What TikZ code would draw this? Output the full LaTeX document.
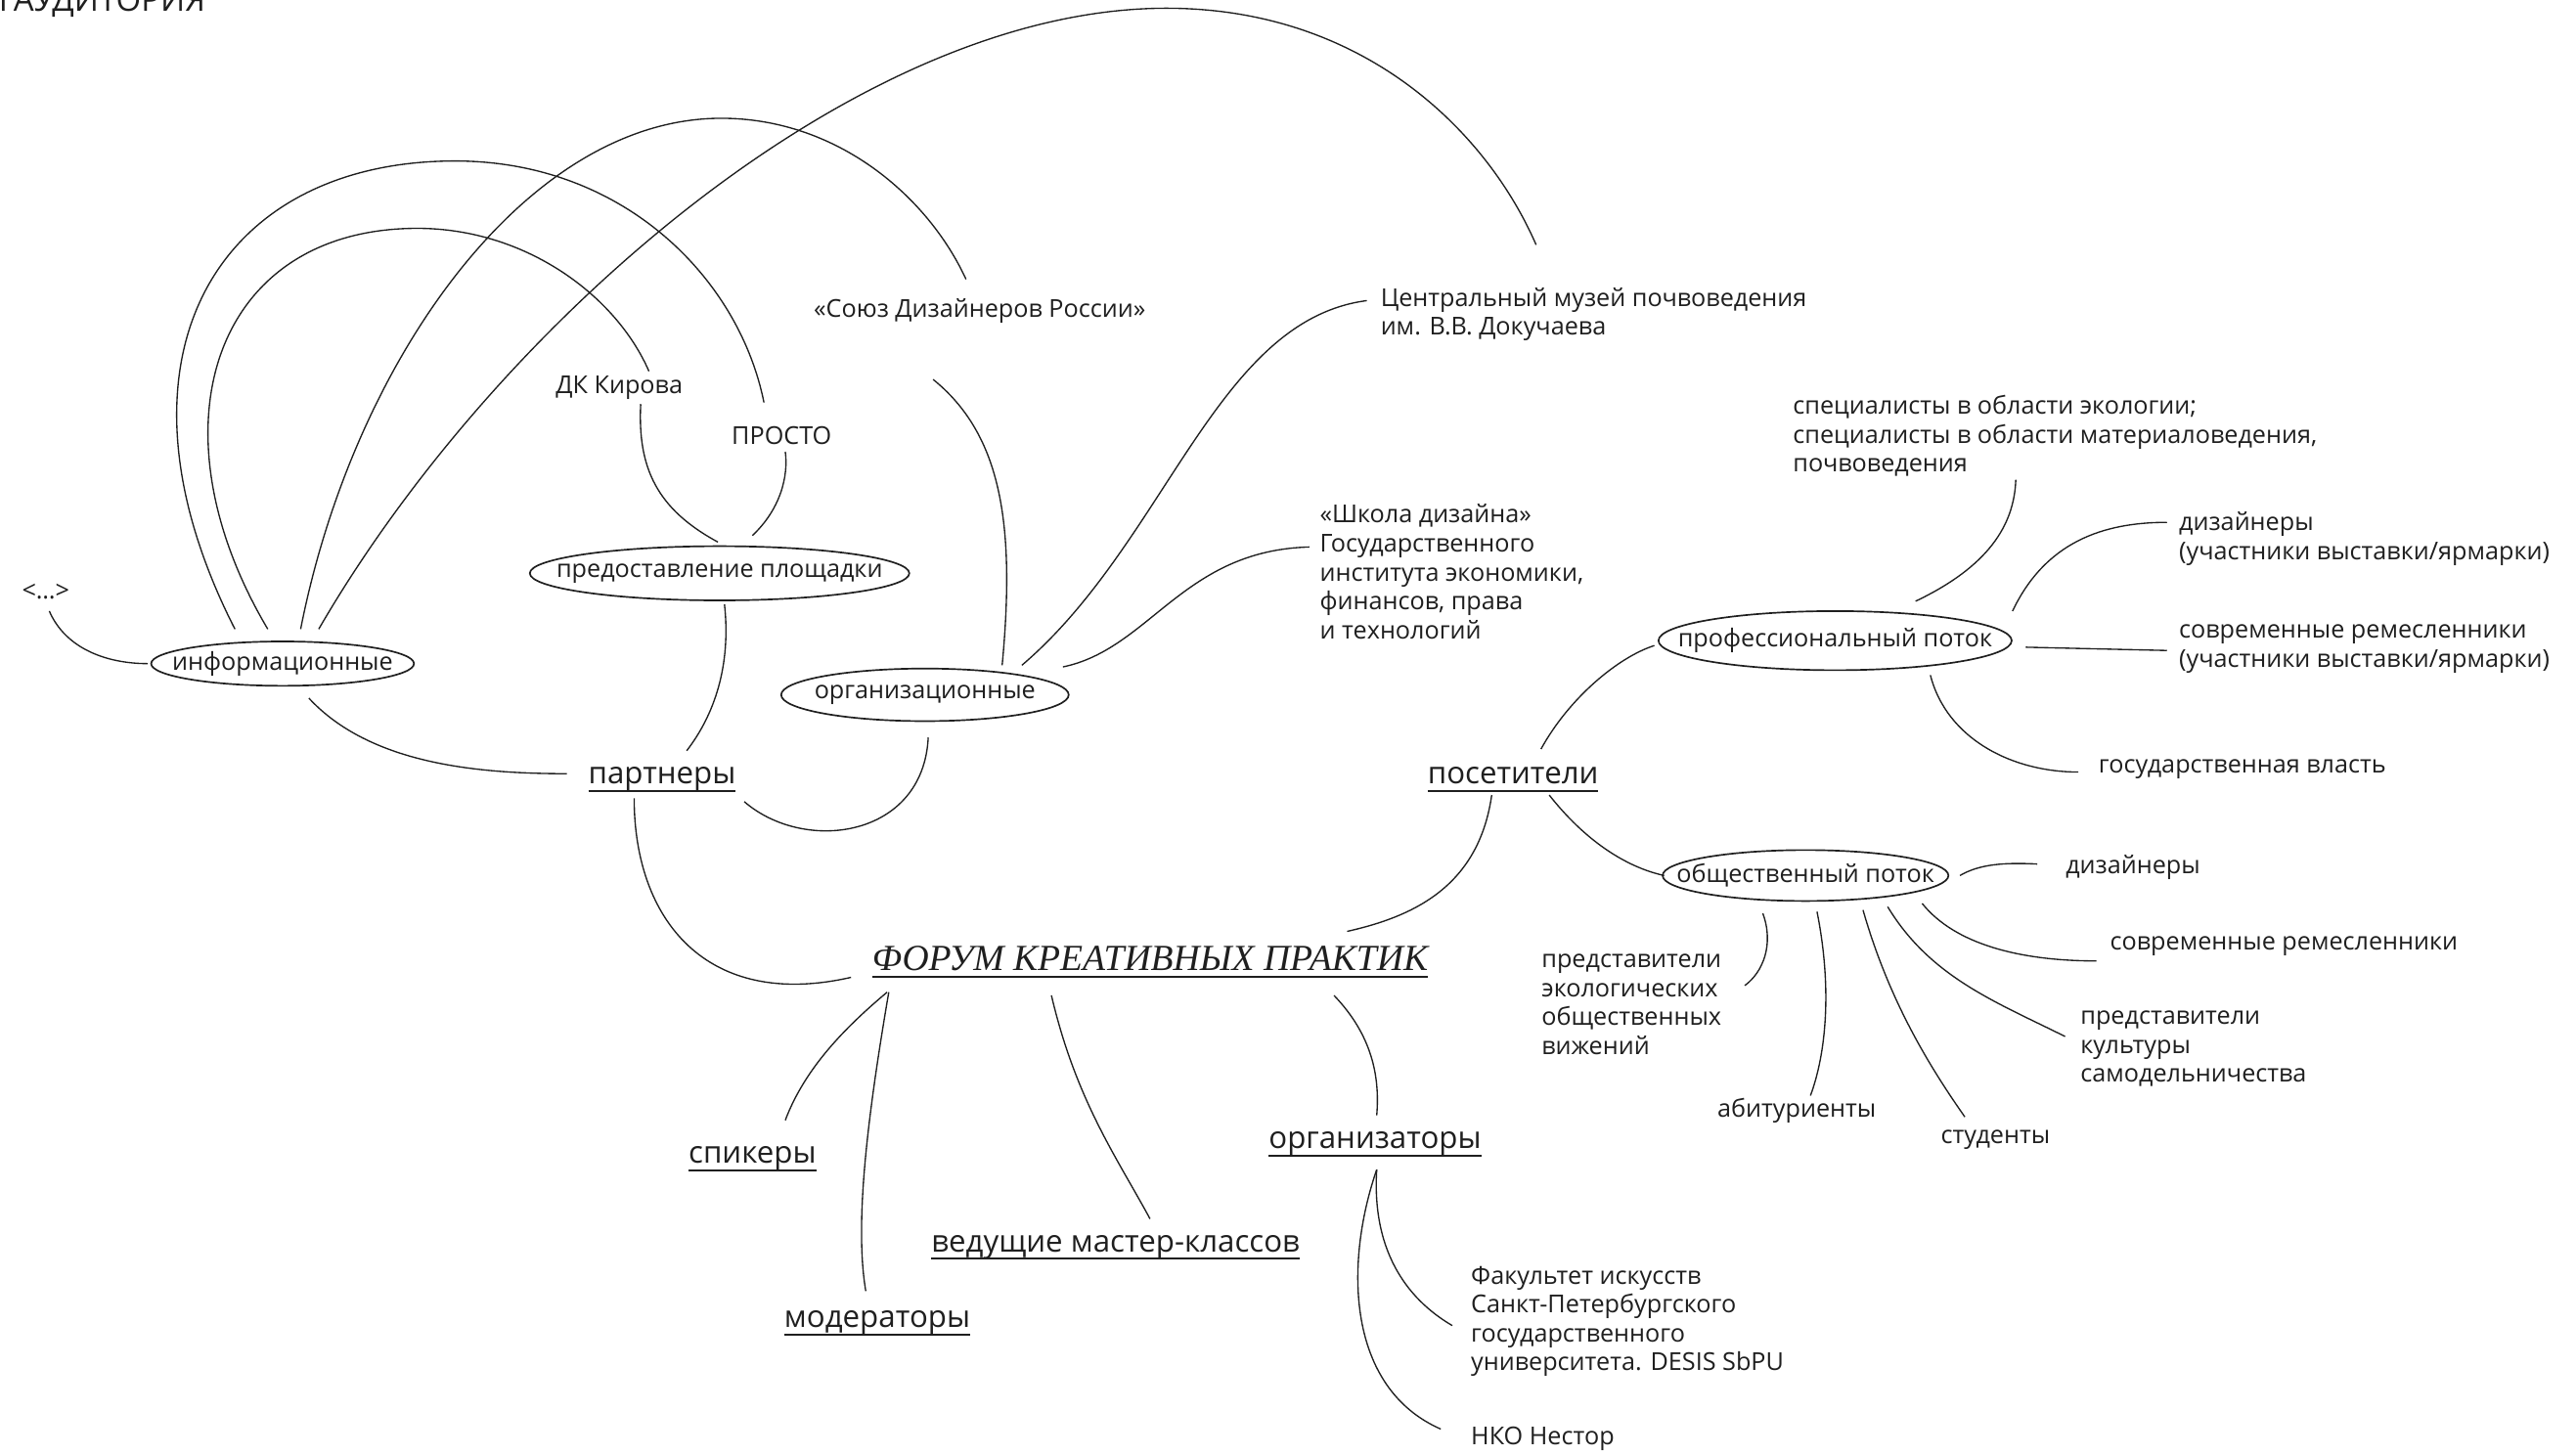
\documentclass[tikz,border=0pt]{standalone}
\usepackage{fontspec}
\setmainfont{Open Sans}
\newfontfamily\titlefont{Liberation Serif}
\usetikzlibrary{shapes.geometric}
\definecolor{ink}{gray}{0.12}
\newcommand\myul[2][2.5pt]{\setbox0\hbox{#2}\leavevmode\rlap{\color{ink}\rule[-#1]{\wd0}{0.6pt}}\box0}
\begin{document}
\begin{tikzpicture}[x=0.5pt,y=-0.5pt,
  every node/.style={text=ink, inner sep=0pt},
  conn/.style={draw=ink, line width=0.4pt},
  small/.style={font=\fontsize{7.5}{8.8}\selectfont, align=left, anchor=west},
  lbl/.style={font=\fontsize{9.3}{11}\selectfont, anchor=base},
  ell/.style={draw=ink, ellipse, line width=0.5pt, font=\fontsize{7.5}{8.8}\selectfont, inner sep=0pt}]
\fill[white] (0,0) rectangle (1568,885.2);
\useasboundingbox (0,0) rectangle (1568,885.2);

% top clipped heading
\node[anchor=base west, font=\fontsize{9.8}{11}\selectfont] (aud) at (-1,7) {ГАУДИТОРИЯ};

% ellipses
\node[ell, minimum width=80pt, minimum height=13.5pt] (info) at (172,404) {\makebox[0pt]{информационные}};
\node[ell, minimum width=115.5pt, minimum height=16.5pt] (plosh) at (438,349) {\makebox[0pt]{предоставление площадки}};
\node[ell, minimum width=87.5pt, minimum height=16pt] (org) at (563,423) {\makebox[0pt]{организационные}};
\node[ell, minimum width=107.5pt, minimum height=18pt] (prof) at (1117,390) {\makebox[0pt]{профессиональный поток}};
\node[ell, minimum width=87pt, minimum height=15.5pt] (obsh) at (1099,533) {\makebox[0pt]{общественный поток}};

% small texts
\node[small] (etc) at (13,360) {<…>};
\node[small] (dk) at (338,236) {ДК Кирова};
\node[small] (prosto) at (445,265) {ПРОСТО};
\node[small] (soyuz) at (495,189) {«Союз Дизайнеров России»};
\node[small] (muzey) at (840,191.5) {Центральный музей почвоведения\\им. В.В. Докучаева};
\node[small] (shkola) at (803,348) {«Школа дизайна»\\Государственного\\института экономики,\\финансов, права\\и технологий};
\node[small] (spec) at (1091,265.5) {специалисты в области экологии;\\специалисты в области материаловедения,\\почвоведения};
\node[small] (diz1) at (1326,328) {дизайнеры\\(участники выставки/ярмарки)};
\node[small] (rem1) at (1326,395) {современные ремесленники\\(участники выставки/ярмарки)};
\node[small] (gos) at (1277,468) {государственная власть};
\node[small] (diz2) at (1257,528) {дизайнеры};
\node[small] (rem2) at (1284,576) {современные ремесленники};
\node[small] (kult) at (1266,638.5) {представители\\культуры\\самодельничества};
\node[small] (stud) at (1181,694) {студенты};
\node[small] (abit) at (1045,676) {абитуриенты};
\node[small] (eco) at (938,611.5) {представители\\экологических\\общественных\\вижений};
\node[small] (fak) at (895,804.5) {Факультет искусств\\Санкт-Петербургского\\государственного\\университета. DESIS SbPU};
\node[small] (nko) at (895,876) {НКО Нестор};

% underlined labels
\node[lbl] (partn) at (403,477) {\myul{партнеры}};
\node[lbl] (poset) at (921,477) {\myul{посетители}};
\node[lbl] (spik) at (458,708) {\myul{спикеры}};
\node[lbl] (moder) at (534,808) {\myul{модераторы}};
\node[lbl] (ved) at (679,762) {\myul{ведущие мастер-классов}};
\node[lbl] (orgs) at (837,699) {\myul{организаторы}};
\node[anchor=base, font=\titlefont\itshape\fontsize{11.2}{13}\selectfont] (forum) at (700,591) {\myul[2.2pt]{ФОРУМ КРЕАТИВНЫХ ПРАКТИК}};

% connectors
\draw[conn] ([shift={(17,12)}]etc.west) .. controls (40,395) and (65,404) .. ([shift={(-82,0)}]info.center);
\draw[conn] ([shift={(16,21)}]info.center) .. controls (225,465) and (290,471) .. ([shift={(-58,-6)}]partn.base);
\draw[conn] ([shift={(3,19)}]plosh.center) .. controls (445,405) and (435,435) .. ([shift={(15,-20)}]partn.base);
\draw[conn] ([shift={(2,26)}]org.center) .. controls (562,510) and (490,520) .. ([shift={(50,11)}]partn.base);
\draw[conn] ([shift={(-17,9)}]partn.base) .. controls (386,560) and (430,615) .. ([shift={(-182,4)}]forum.base);
\draw[conn] ([shift={(-160,13)}]forum.base) .. controls (515,625) and (490,650) .. ([shift={(20,-26)}]spik.base);
\draw[conn] ([shift={(-159,13)}]forum.base) .. controls (528,680) and (520,745) .. ([shift={(-7,-22)}]moder.base);
\draw[conn] ([shift={(-60,15)}]forum.base) .. controls (655,670) and (680,705) .. ([shift={(21,-20)}]ved.base);
\draw[conn] ([shift={(112,15)}]forum.base) .. controls (835,630) and (840,655) .. ([shift={(1,-20)}]orgs.base);
\draw[conn] ([shift={(-13,7)}]poset.base) .. controls (900,540) and (860,558) .. ([shift={(120,-24)}]forum.base);
\draw[conn] ([shift={(17,-21)}]poset.base) .. controls (955,425) and (985,400) .. ([shift={(-110,3)}]prof.center);
\draw[conn] ([shift={(22,7)}]poset.base) .. controls (965,512) and (990,528) .. ([shift={(-86,0)}]obsh.center);
\draw[conn] ([shift={(49,-24)}]prof.center) .. controls (1210,345) and (1226,320) .. ([shift={(136,26.5)}]spec.west);
\draw[conn] ([shift={(108,-18)}]prof.center) .. controls (1245,330) and (1280,318) .. ([shift={(-7,-10)}]diz1.west);
\draw[conn] ([shift={(116,4)}]prof.center) -- ([shift={(-7,1)}]rem1.west);
\draw[conn] ([shift={(58,21)}]prof.center) .. controls (1185,450) and (1225,470) .. ([shift={(-12,2)}]gos.west);
\draw[conn] ([shift={(94,0)}]obsh.center) .. controls (1205,526) and (1220,525) .. ([shift={(-17,-2)}]diz2.west);
\draw[conn] ([shift={(71,17)}]obsh.center) .. controls (1190,575) and (1230,585) .. ([shift={(-8,9)}]rem2.west);
\draw[conn] ([shift={(50,19)}]obsh.center) .. controls (1175,595) and (1215,610) .. ([shift={(-9,-7.5)}]kult.west);
\draw[conn] ([shift={(35,21)}]obsh.center) .. controls (1150,610) and (1175,650) .. ([shift={(15,-14)}]stud.west);
\draw[conn] ([shift={(7,22)}]obsh.center) .. controls (1115,600) and (1112,640) .. ([shift={(57,-9)}]abit.west);
\draw[conn] ([shift={(-26,23)}]obsh.center) .. controls (1080,575) and (1073,592) .. ([shift={(124,-11.5)}]eco.west);
\draw[conn] ([shift={(1,13)}]orgs.base) .. controls (835,760) and (855,790) .. ([shift={(-11,2.5)}]fak.west);
\draw[conn] ([shift={(1,13)}]orgs.base) .. controls (818,770) and (820,845) .. ([shift={(-18,-6)}]nko.west);
\draw[conn] ([shift={(47,-18)}]org.center) .. controls (618,320) and (610,265) .. ([shift={(73,42)}]soyuz.west);
\draw[conn] ([shift={(59,-18)}]org.center) .. controls (710,330) and (740,195) .. ([shift={(-8,-8.5)}]muzey.west);
\draw[conn] ([shift={(84,-17)}]org.center) .. controls (700,395) and (720,335) .. ([shift={(-6,-15)}]shkola.west);
\draw[conn] ([shift={(-1,-19)}]plosh.center) .. controls (400,310) and (388,285) .. ([shift={(52,10)}]dk.west);
\draw[conn] ([shift={(20,-23)}]plosh.center) .. controls (475,310) and (480,290) .. ([shift={(33,10)}]prosto.west);
% big arcs from "информационные"
\draw[conn] ([shift={(-29,-21)}]info.center) .. controls (60,220) and (130,98) .. (277,98) .. controls (380,98) and (450,170) .. ([shift={(20,-20)}]prosto.west);
\draw[conn] ([shift={(-9,-21)}]info.center) .. controls (90,260) and (130,139) .. (254,139) .. controls (320,139) and (375,180) .. ([shift={(57,-10)}]dk.west);
\draw[conn] ([shift={(11,-21)}]info.center) .. controls (215,220) and (320,72) .. (439,72) .. controls (510,72) and (565,120) .. ([shift={(93,-19)}]soyuz.west);
\draw[conn] ([shift={(22,-21)}]info.center) .. controls (300,200) and (520,5) .. (710,5) .. controls (830,5) and (905,80) .. ([shift={(95,-42.5)}]muzey.west);
\end{tikzpicture}
\end{document}
